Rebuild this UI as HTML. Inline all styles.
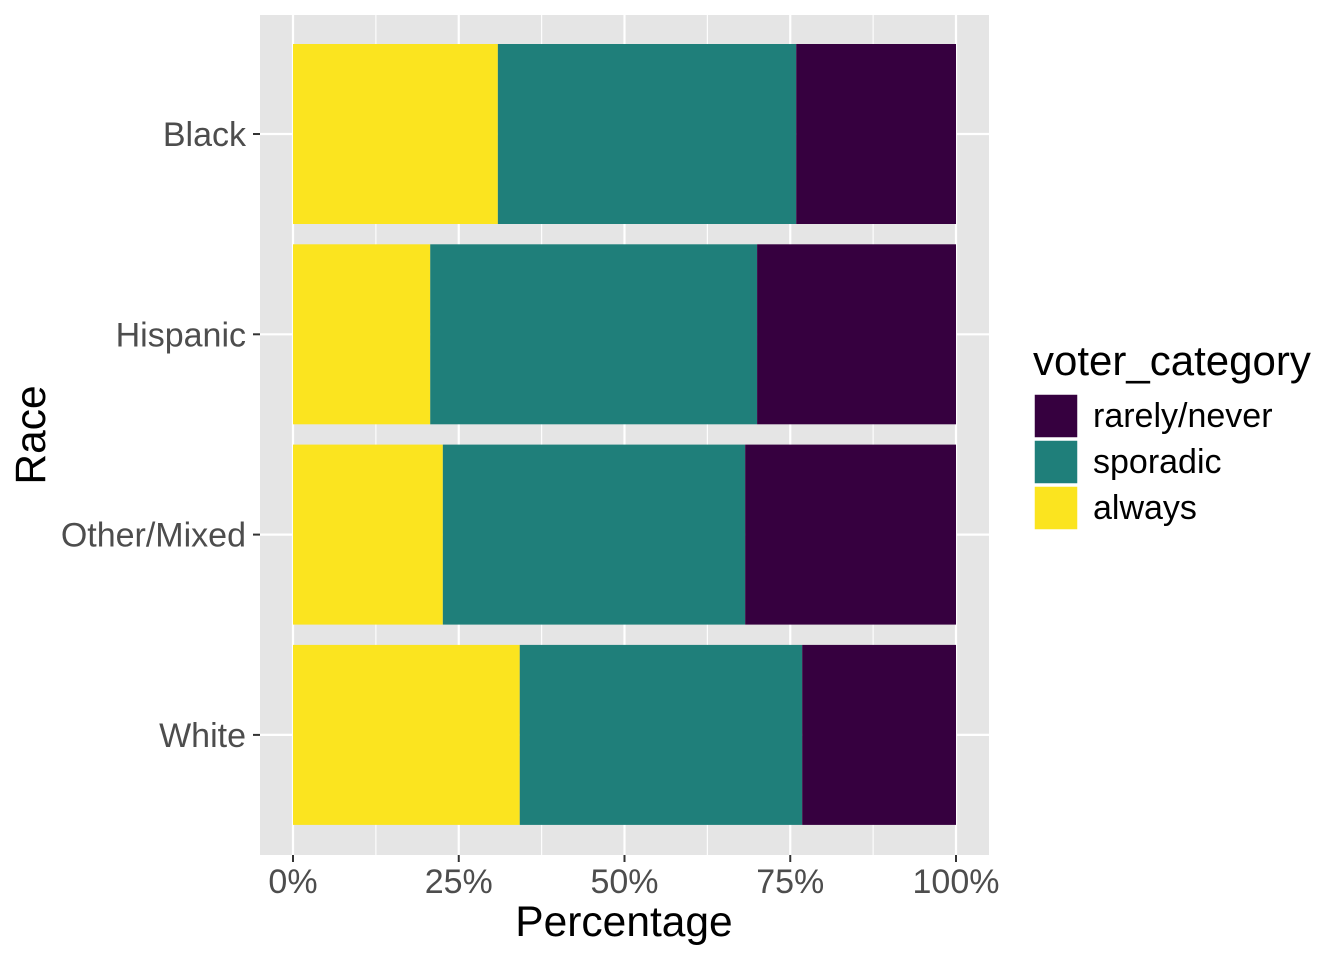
<!DOCTYPE html>
<html><head><meta charset="utf-8"><style>
html,body{margin:0;padding:0;background:#fff;}
svg{display:block;font-family:"Liberation Sans",Arial,sans-serif;}
</style></head><body>
<svg id="chart" width="1344" height="960" viewBox="0 0 1344 960">
<rect x="260" y="15" width="729" height="840" fill="#e5e5e5"/>
<g id="grid"></g>
<g id="bars"></g>
<g id="axes"></g>
<text x="624" y="936" font-size="42.5" text-anchor="middle" fill="#000">Percentage</text>
<text transform="translate(45,435) rotate(-90)" font-size="42.5" text-anchor="middle" fill="#000">Race</text>
<g>
<text x="1033" y="375" font-size="42" fill="#000">voter_category</text>
<g id="legend-items"></g>
</g>
</svg>
<script>
const categories = ["Black","Hispanic","Other/Mixed","White"];
const alwaysVals = [30.9,20.7,22.6,34.2];
const sporadicVals = [45.0,49.3,45.6,42.6];
const rarelyVals = [24.1,30.0,31.8,23.2];
const xTicks = [0,25,50,75,100];
const xTickLabels = ["0%","25%","50%","75%","100%"];
const legendLabels = ["rarely/never","sporadic","always"];
const colors = {always:"#fbe41f",sporadic:"#1f7f7a",rarely:"#36003f"};
const NS="http://www.w3.org/2000/svg";
const x = v => 293 + v*6.63;
const yC = i => 134 + i*200.3;
const bh = 180;
function mk(tag,attrs,parent){const e=document.createElementNS(NS,tag);for(const k in attrs)e.setAttribute(k,attrs[k]);parent.appendChild(e);return e;}
const grid=document.getElementById('grid'),bars=document.getElementById('bars'),axes=document.getElementById('axes');
xTicks.forEach((t,i)=>{
  if(i<xTicks.length-1){const m=mk('line',{x1:x(t+12.5),x2:x(t+12.5),y1:15,y2:855,stroke:'#fff','stroke-width':1.1},grid);
  
  }
  const g=mk('line',{x1:x(t),x2:x(t),y1:15,y2:855,stroke:'#fff','stroke-width':2.2},grid);
  
  
  const tk=mk('line',{x1:x(t),x2:x(t),y1:855,y2:862,stroke:'#333','stroke-width':2},axes);
  
  
  const tl=mk('text',{x:x(t),y:893,'font-size':34,'text-anchor':'middle',fill:'#4d4d4d'},axes);
  tl.textContent=xTickLabels[i];
  
  
});
categories.forEach((c,i)=>{
  const g=mk('line',{x1:260,x2:989,y1:yC(i),y2:yC(i),stroke:'#fff','stroke-width':2.2},grid);
  
  
  const segs=[[0,alwaysVals[i],colors.always,'always'],[alwaysVals[i],alwaysVals[i]+sporadicVals[i],colors.sporadic,'sporadic'],[alwaysVals[i]+sporadicVals[i],alwaysVals[i]+sporadicVals[i]+rarelyVals[i],colors.rarely,'rarely']];
  segs.forEach(s=>{
    const r=mk('rect',{x:x(s[0]),y:yC(i)-bh/2,width:x(s[1])-x(s[0]),height:bh,fill:s[2]},bars);
    
    
  });
  const tk=mk('line',{x1:253,x2:260,y1:yC(i),y2:yC(i),stroke:'#333','stroke-width':2},axes);
  
  
  const tl=mk('text',{x:246,y:yC(i)+12,'font-size':34,'text-anchor':'end',fill:'#4d4d4d'},axes);
  tl.textContent=c;
  
  
});
const li=document.getElementById('legend-items');
const lcol=[colors.rarely,colors.sporadic,colors.always];
legendLabels.forEach((l,i)=>{
  const r=mk('rect',{x:1034,y:394+i*46,width:44,height:44,fill:lcol[i],stroke:'#fff','stroke-width':1.5},li);
  
  
  const t=mk('text',{x:1093,y:427+i*46,'font-size':34,fill:'#000'},li);
  t.textContent=l;
  
  
});
</script>
</body></html>
